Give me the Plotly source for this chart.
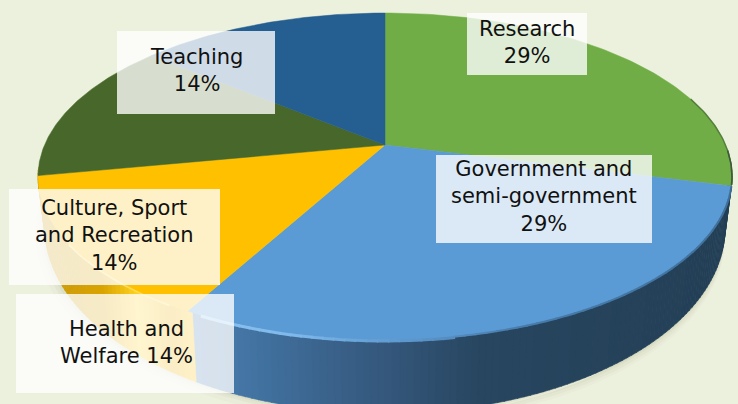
import numpy as np
import plotly.graph_objects as go

categories = ["Research", "Government and semi-government", "Health and Welfare", "Culture, Sport and Recreation", "Teaching"]
values = [29, 29, 14, 14, 14]
colors = ["#70ad47", "#5b9bd5", "#ffc000", "#48682b", "#255e91"]
label_lines = ["Research<br>29%", "Government and<br>semi-government<br>29%", "Health and<br>Welfare 14%",
               "Culture, Sport<br>and Recreation<br>14%", "Teaching<br>14%"]
label_boxes = [(467, 13, 587, 75), (436, 155, 652, 243), (16, 294, 234, 393), (9, 189, 220, 285), (117, 31, 275, 114)]
label_text_xy = [(527, 42), (544, 196), (126, 342), (114, 235), (196, 70)]

BG = "#ecf1dd"
CX, CY, A, B, K = 385, 145, 340.5, 157.4, 0.1926
ELL_CY, ELL_RY = 176, 163
LOW_CY, LOW_RY, LOW_SX = 227, 185, 0.98


def project(theta):
    u, v = np.sin(theta), np.cos(theta)
    w = 1 + K * v
    return CX + A * u / w, CY - B * v / w


def lower(x, y):
    return CX + (x - CX) * LOW_SX, LOW_CY + (y - ELL_CY) * LOW_RY / ELL_RY


def hexmix(c1, c2, t):
    a = [int(c1[i:i + 2], 16) for i in (1, 3, 5)]
    b = [int(c2[i:i + 2], 16) for i in (1, 3, 5)]
    return "#%02x%02x%02x" % tuple(int(round(p + (q - p) * t)) for p, q in zip(a, b))


def ramp(stops, x):
    if x <= stops[0][0]:
        return stops[0][1]
    for (x0, c0), (x1, c1) in zip(stops, stops[1:]):
        if x <= x1:
            return hexmix(c0, c1, (x - x0) / (x1 - x0))
    return stops[-1][1]


WALL_STOPS = [(30, "#c99a10"), (100, "#d9a300"), (135, "#fdd020"), (170, "#e9b000"), (193, "#ffc000"),
              (194, "#4b7fb3"), (260, "#41719f"), (370, "#365a80"), (480, "#284660"), (740, "#233f56")]
RIM_STOPS = [(104, "#3f6d97"), (160, "#477ba9"), (178, "#5f9ad0"), (192, "#7fb9ec"), (207, "#8cc3f0"), (209, "#a8d0f2")]

fig = go.Figure()

# soft drop shadow below the body
th_all = np.linspace(0, 2 * np.pi, 241)
xs, ys = project(th_all)
lx, ly = lower(xs, ys)
for off, col in [(10, "#e8ecd8"), (7, "#e3e7d1"), (4, "#dde1c9"), (2, "#d5d9bf")]:
    fig.add_trace(go.Scatter(x=lx, y=ly + off, mode="lines", fill="toself",
                             fillcolor=col, line=dict(width=0), hoverinfo="skip", showlegend=False))
for off, col in [(10, "#e8ecd8"), (6, "#e2e6d0"), (3, "#dcdfc8")]:
    fig.add_trace(go.Scatter(x=lx - off, y=ly + off * 0.6, mode="lines", fill="toself",
                             fillcolor=col, line=dict(width=0), hoverinfo="skip", showlegend=False))

# side wall: thin quads between the upper rim and the lower rim
th_side = np.radians(np.linspace(96, 262, 167))
for t0, t1 in zip(th_side[:-1], th_side[1:]):
    tt = np.linspace(t0, t1 + 0.002, 3)
    x, y = project(tt)
    xl, yl = lower(x, y)
    col = ramp(WALL_STOPS, float(x.mean()))
    fig.add_trace(go.Scatter(x=np.r_[x, xl[::-1], x[0]], y=np.r_[y, yl[::-1], y[0]], mode="lines", fill="toself",
                             fillcolor=col, line=dict(width=0.6, color=col), hoverinfo="skip", showlegend=False))

# top surface wedges
cum = np.cumsum([0] + values) / sum(values) * 2 * np.pi
for i, name in enumerate(categories):
    th = np.linspace(cum[i], cum[i + 1], 90)
    x, y = project(th)
    fig.add_trace(go.Scatter(x=np.r_[CX, x, CX], y=np.r_[CY, y, CY], mode="lines", fill="toself", name=name,
                             fillcolor=colors[i], line=dict(width=0.5, color=colors[i]), hoverinfo="name",
                             showlegend=False))

# rim of the blue wedge: dark and blurred on the right, a soft highlight on the left
deg = np.arange(104.4, 207.5, 1.5)
for d0, d1 in zip(deg[:-1], deg[1:]):
    x, y = project(np.radians(np.array([d0, d1 + 0.2])))
    col = ramp(RIM_STOPS, d0)
    wid = 2 if d0 < 170 else 3
    fig.add_trace(go.Scatter(x=x, y=y + (0 if d0 < 170 else 1), mode="lines", line=dict(width=wid, color=col),
                             hoverinfo="skip", showlegend=False))

# bright streak on the yellow rim
x, y = project(np.radians(np.linspace(212, 236, 25)))
fig.add_trace(go.Scatter(x=x, y=y + 1, mode="lines", line=dict(width=1.5, color="#ffdc50"), hoverinfo="skip", showlegend=False))

# dark shading on the far right edge of the green wedge
x, y = project(np.radians(np.linspace(72, 104, 33)))
fig.add_trace(go.Scatter(x=x, y=y, mode="lines", line=dict(width=1.5, color="#55803c"), hoverinfo="skip", showlegend=False))
x, y = project(np.radians(np.linspace(92, 104, 13)))
fig.add_trace(go.Scatter(x=x, y=y, mode="lines", line=dict(width=1.5, color="#3c5a3a"), hoverinfo="skip", showlegend=False))

shapes = [dict(type="rect", xref="x", yref="y", x0=b[0], y0=b[1], x1=b[2], y1=b[3], layer="above",
               fillcolor="rgba(255,255,255,0.78)", line=dict(width=0)) for b in label_boxes]
annotations = [dict(x=p[0], y=p[1], xref="x", yref="y", text=t, showarrow=False, align="center",
                    xanchor="center", yanchor="middle",
                    font=dict(family="DejaVu Sans", size=21, color="#111111"))
               for t, p in zip(label_lines, label_text_xy)]

fig.update_layout(
    width=738, height=404, autosize=False, margin=dict(l=0, r=0, t=0, b=0),
    paper_bgcolor=BG, plot_bgcolor=BG, showlegend=False,
    xaxis=dict(range=[0, 738], visible=False, fixedrange=True),
    yaxis=dict(range=[404, 0], visible=False, fixedrange=True),
    shapes=shapes, annotations=annotations,
)
fig.write_html("out.html", config=dict(displayModeBar=False),
               post_script="document.body.style.margin='0';document.body.style.overflow='hidden';")
